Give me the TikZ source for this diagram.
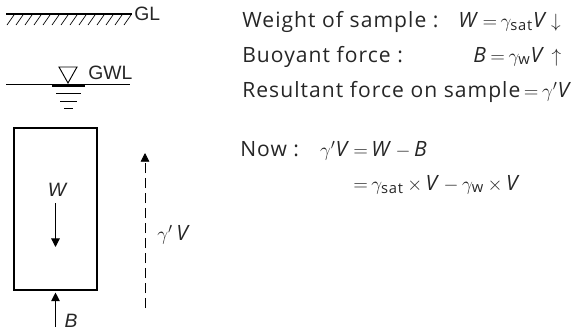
\documentclass[tikz,border=0pt]{standalone}
\usepackage{amsmath}
\usepackage{fontspec}
\setmainfont{Open Sans}[LetterSpace=5]
\newfontfamily\labelfont{Liberation Sans}
\usetikzlibrary{arrows.meta}

% symbols used in the equations
\newcommand{\gsat}{\ensuremath{\gamma_{\text{sat}}}}
\newcommand{\gw}{\ensuremath{\gamma_{\text{w}}}}
\newcommand{\gdash}{\ensuremath{\gamma'}}
\newcommand{\vW}{\textit{W}}
\newcommand{\vB}{\textit{B}}
\newcommand{\vV}{\textit{V}}

\begin{document}
\begin{tikzpicture}[x=0.75pt, y=-0.75pt,
    every node/.style={font=\fontsize{15.8}{18}\selectfont, inner sep=0pt, text=black!85},
    tag/.style={font=\labelfont\fontsize{14.5}{17}\selectfont},
    eqline/.style={anchor=base west},
    force/.style={-{Triangle[length=6.5pt,width=6.5pt]}, line width=0.8pt},
    ground/.style={line width=0.8pt},
    water/.style={line width=0.7pt},
  ]
  \useasboundingbox (0,0) rectangle (585,333);

  % ground level with hatching
  \draw[ground] (6,14) -- (132,14);
  \foreach \x in {7,16,...,124}
    \draw[line width=0.5pt] (\x,25) -- (\x+7,15);
  \node[tag, anchor=west] (gl) at (134,14) {GL};

  % ground water level
  \draw[water] (59,67) -- (77,67) -- (68,83) -- cycle;
  \draw[water] (6,84) -- (130,84);
  \draw[line width=1pt]   (52,86)  -- (85,86);
  \draw[line width=0.7pt] (56,93)  -- (81,93);
  \draw[line width=0.6pt] (60,101) -- (77,101);
  \draw[line width=0.6pt] (64,108) -- (73,108);
  \node[tag, anchor=west] (gwl) at (88,73) {GWL};

  % soil sample and forces
  \node[draw, line width=0.8pt, minimum width=62.25pt, minimum height=121.5pt]
    (sample) at (55.5,209) {};
  \node[tag] (wlab) at (57,190) {\itshape W};
  \coordinate (wtop) at (55.5,203);
  \coordinate (wbot) at (55.5,247);
  \draw[force] (wtop) -- (wbot);

  \coordinate (btail) at (55.5,327);
  \draw[force, shorten >=1.5pt] (btail) -- (sample.south);
  \node[tag] (blab) at (71,321) {\itshape B};

  \coordinate (rbot) at (145,308);
  \coordinate (rtop) at (145,153);
  \draw[force, line width=0.6pt, dash pattern=on 7.5pt off 3.75pt] (rbot) -- (rtop);
  \node[anchor=west] (rlab) at (157,235) {\gdash\,\vV};

  % equations
  \node[eqline] (wttext) at (242,27) {Weight of sample :};
  \node[eqline] (wteq)   at (458,27) {\vW\,$=$\,\gsat\vV\,$\downarrow$};
  \node[eqline] (bftext) at (242,62) {Buoyant force :};
  \node[eqline] (bfeq)   at (473,62) {\vB\,$=$\,\gw\vV\ $\uparrow$};
  \node[eqline] (rftext) at (242,97) {Resultant force on sample\,$=$\,\gdash\vV};

  \node[eqline] (now)  at (240,156) {Now :};
  \node[eqline] (rhsa) at (353,156) {$=$\,\vW\,$-$\,\vB};
  \node[anchor=base east] (lhs) at ([xshift=-2pt]rhsa.base west) {\gdash\vV};
  \node[eqline] (rhsb) at (353,190) {$=$\,\gsat\,$\times$\,\vV\,$-$\,\gw\,$\times$\,\vV};
\end{tikzpicture}
\end{document}
